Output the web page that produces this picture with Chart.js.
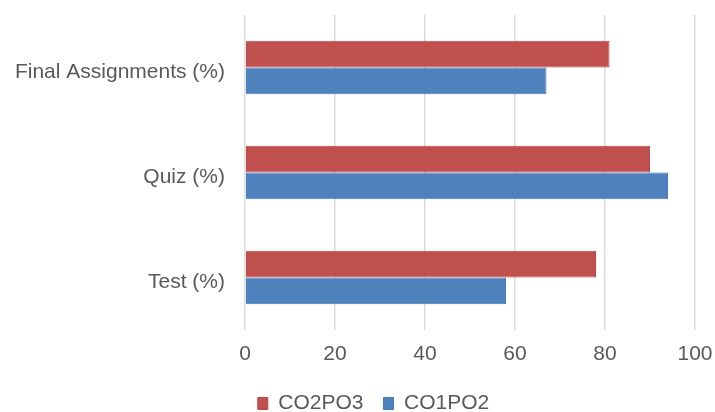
<!DOCTYPE html>
<html>
<head>
<meta charset="utf-8">
<script src="https://cdn.jsdelivr.net/npm/chart.js@4.4.1/dist/chart.umd.min.js"></script>
<style>
   html, body { margin: 0; padding: 0; background: #fff; overflow: hidden; }
   #wrap { width: 715px; height: 412px; }
</style>
</head>
<body>
<div id="wrap"><canvas id="chartScores" width="715" height="412"></canvas></div>
<script>
   const categories = ['Final Assignments (%)', 'Quiz (%)', 'Test (%)'];
   const seriesNames = ['CO2PO3', 'CO1PO2'];
   const co2po3Values = [81, 90, 78];
   const co1po2Values = [67, 94, 58];
   const xTickValues = [0, 20, 40, 60, 80, 100];

   const RED = '#C0504D';
   const BLUE = '#4F81BD';
   const TEXT = '#595959';
   const FONT = "'Liberation Sans', Arial, sans-serif";

   Chart.defaults.font.family = FONT;
   Chart.defaults.font.size = 21;
   Chart.defaults.color = TEXT;

   // legend sits a bit right of the canvas centre in the original
   const legendShift = {
      id: 'legendShift',
      afterLayout: chart => {
         chart.legend.left += 26;
         chart.legend.right += 26;
      }
   };

   const ctx = document.getElementById('chartScores').getContext('2d');
   const chartScores = new Chart(ctx, {
      type: 'bar',
      data: {
         labels: categories,
         datasets: [{
            label: seriesNames[0],
            data: co2po3Values,
            backgroundColor: RED,
            borderColor: '#B8474A',
            borderWidth: 1,
            categoryPercentage: 0.51,
            barPercentage: 1.0,
         }, {
            label: seriesNames[1],
            data: co1po2Values,
            backgroundColor: BLUE,
            borderColor: '#477BBA',
            borderWidth: 1,
            categoryPercentage: 0.51,
            barPercentage: 1.0,
         }]
      },
      options: {
         indexAxis: 'y',
         responsive: false,
         animation: false,
         layout: {
            padding: { top: 15, right: 20, left: 0, bottom: 0 }
         },
         scales: {
            x: {
               min: 0,
               max: 100,
               afterBuildTicks: axis => {
                  axis.ticks = xTickValues.map(v => ({ value: v }));
               },
               afterFit: axis => {
                  axis.height = 43;
                  axis.paddingLeft = 0;
                  axis.paddingRight = 0;
               },
               grid: {
                  color: '#DCDCDC',
                  lineWidth: 1.5,
                  drawTicks: false,
               },
               border: { display: false },
               ticks: {
                  padding: 12,
                  color: TEXT,
               }
            },
            y: {
               afterFit: axis => {
                  axis.width = 245;
                  axis.paddingTop = 0;
                  axis.paddingBottom = 0;
               },
               grid: { display: false },
               border: { display: false },
               ticks: {
                  padding: 12,
                  labelOffset: 5,
                  color: TEXT,
               }
            }
         },
         plugins: {
            legend: {
               position: 'bottom',
               maxHeight: 39,
               labels: {
                  boxWidth: 10,
                  boxHeight: 12,
                  padding: 20,
                  color: TEXT,
               }
            },
            tooltip: { enabled: false },
            title: { display: false }
         }
      },
      plugins: [legendShift]
   });
</script>
</body>
</html>
